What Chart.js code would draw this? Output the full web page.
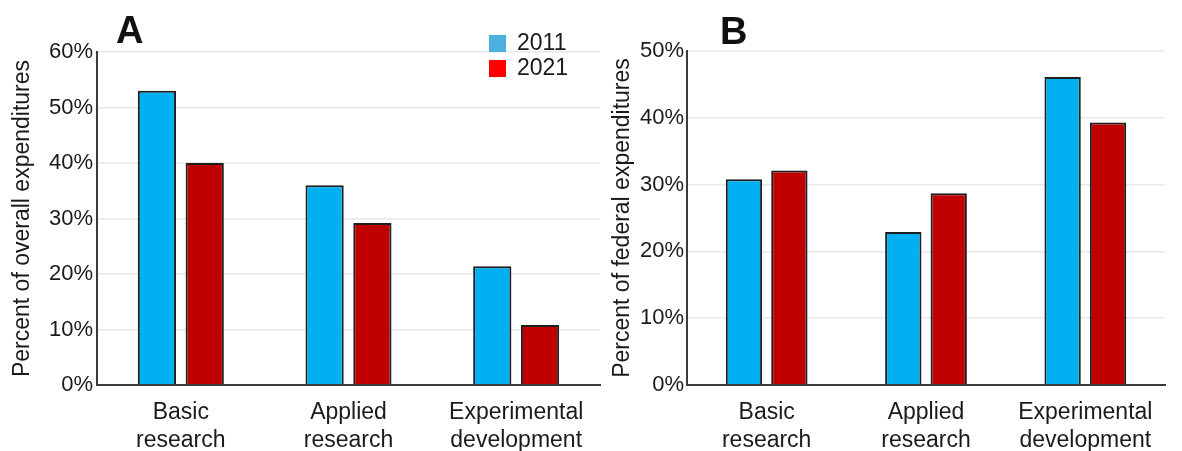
<!DOCTYPE html>
<html>
<head>
<meta charset="utf-8">
<script src="https://cdn.jsdelivr.net/npm/chart.js@4.4.0/dist/chart.umd.min.js"></script>
<style>
  body { margin: 0; background: #fff; }
  #wrap { position: relative; width: 1182px; height: 451px; overflow: hidden; }
  .panel { position: absolute; top: 0; height: 451px; }
  .letter { position: absolute; font: bold 38px "Liberation Sans", Arial, sans-serif; color: #111; }
</style>
</head>
<body>
<div id="wrap">
  <div class="panel" style="left:0;width:605px"><canvas id="chartA"></canvas></div>
  <div class="panel" style="left:600px;width:582px"><canvas id="chartB"></canvas></div>
  <div class="letter" style="left:116px;top:9px">A</div>
  <div class="letter" style="left:720px;top:10px">B</div>
</div>
<script>
// -----------------------
// Data
// -----------------------
const categories = [['Basic', 'research'], ['Applied', 'research'], ['Experimental', 'development']];
const years = ['2011', '2021'];

const overall2011 = [53.0, 36.0, 21.4];
const overall2021 = [40.0, 29.2, 10.8];

const federal2011 = [30.8, 22.9, 46.1];
const federal2021 = [32.1, 28.7, 39.3];

const barColors = ['#00B0F0', '#C00000'];
const legendColors = ['#4BAFE0', '#FF0000'];

const FONT = '"Liberation Sans", Arial, sans-serif';
const TEXT = '#1a1a1a';

// -----------------------
// Legend (drawn inside panel A)
// -----------------------
const boxLegend = {
  id: 'boxLegend',
  afterDraw(chart, args, opts) {
    if (!opts.show) return;
    const ctx = chart.ctx;
    const x = chart.chartArea.right - 111;
    ctx.save();
    ctx.font = '23px ' + FONT;
    ctx.textBaseline = 'middle';
    chart.data.datasets.forEach((ds, i) => {
      const y = 35 + i * 25;
      ctx.fillStyle = legendColors[i];
      ctx.fillRect(x, y, 17, 17);
      ctx.fillStyle = TEXT;
      ctx.fillText(ds.label, x + 28, y + 9);
    });
    ctx.restore();
  }
};

function makeChart(id, title, a, b, max, opts) {
  return new Chart(document.getElementById(id), {
    type: 'bar',
    data: {
      labels: categories,
      datasets: [
        { label: years[0], data: a, backgroundColor: barColors[0] },
        { label: years[1], data: b, backgroundColor: barColors[1] }
      ]
    },
    options: {
      responsive: true,
      maintainAspectRatio: false,
      animation: false,
      layout: { padding: { top: opts.top, right: opts.right, bottom: 0, left: 0 } },
      datasets: {
        bar: {
          borderColor: '#1e1e1e',
          borderWidth: 2,
          categoryPercentage: 0.57,
          barPercentage: 0.8
        }
      },
      plugins: {
        legend: { display: false },
        tooltip: { enabled: false },
        boxLegend: { show: opts.legend }
      },
      scales: {
        x: {
          grid: { display: false },
          border: { color: '#3a3a3a', width: 2 },
          ticks: { color: TEXT, padding: 5, maxRotation: 0, autoSkip: false, font: { family: FONT, size: 23, lineHeight: 1.25 } },
          afterFit: s => { s.height = 66; }
        },
        y: {
          min: 0,
          max: max,
          grid: { color: '#e8e8e8', lineWidth: 1.5, drawTicks: false },
          border: { color: '#3a3a3a', width: 2 },
          ticks: { stepSize: 10, padding: opts.tickPad, color: TEXT, font: { family: FONT, size: 22 }, callback: v => v + '%' },
          title: { display: true, text: title, color: TEXT, padding: { top: 9, bottom: 0 }, font: { family: FONT, size: 23 } },
          afterFit: s => { s.width = opts.axisW; }
        }
      }
    },
    plugins: [boxLegend]
  });
}

makeChart('chartA', 'Percent of overall expenditures', overall2011, overall2021, 60,
  { top: 52, right: 5, axisW: 97, tickPad: 4, legend: true });
makeChart('chartB', 'Percent of federal expenditures', federal2011, federal2021, 50,
  { top: 51, right: 17, axisW: 87, tickPad: 3, legend: false });
</script>
</body>
</html>
